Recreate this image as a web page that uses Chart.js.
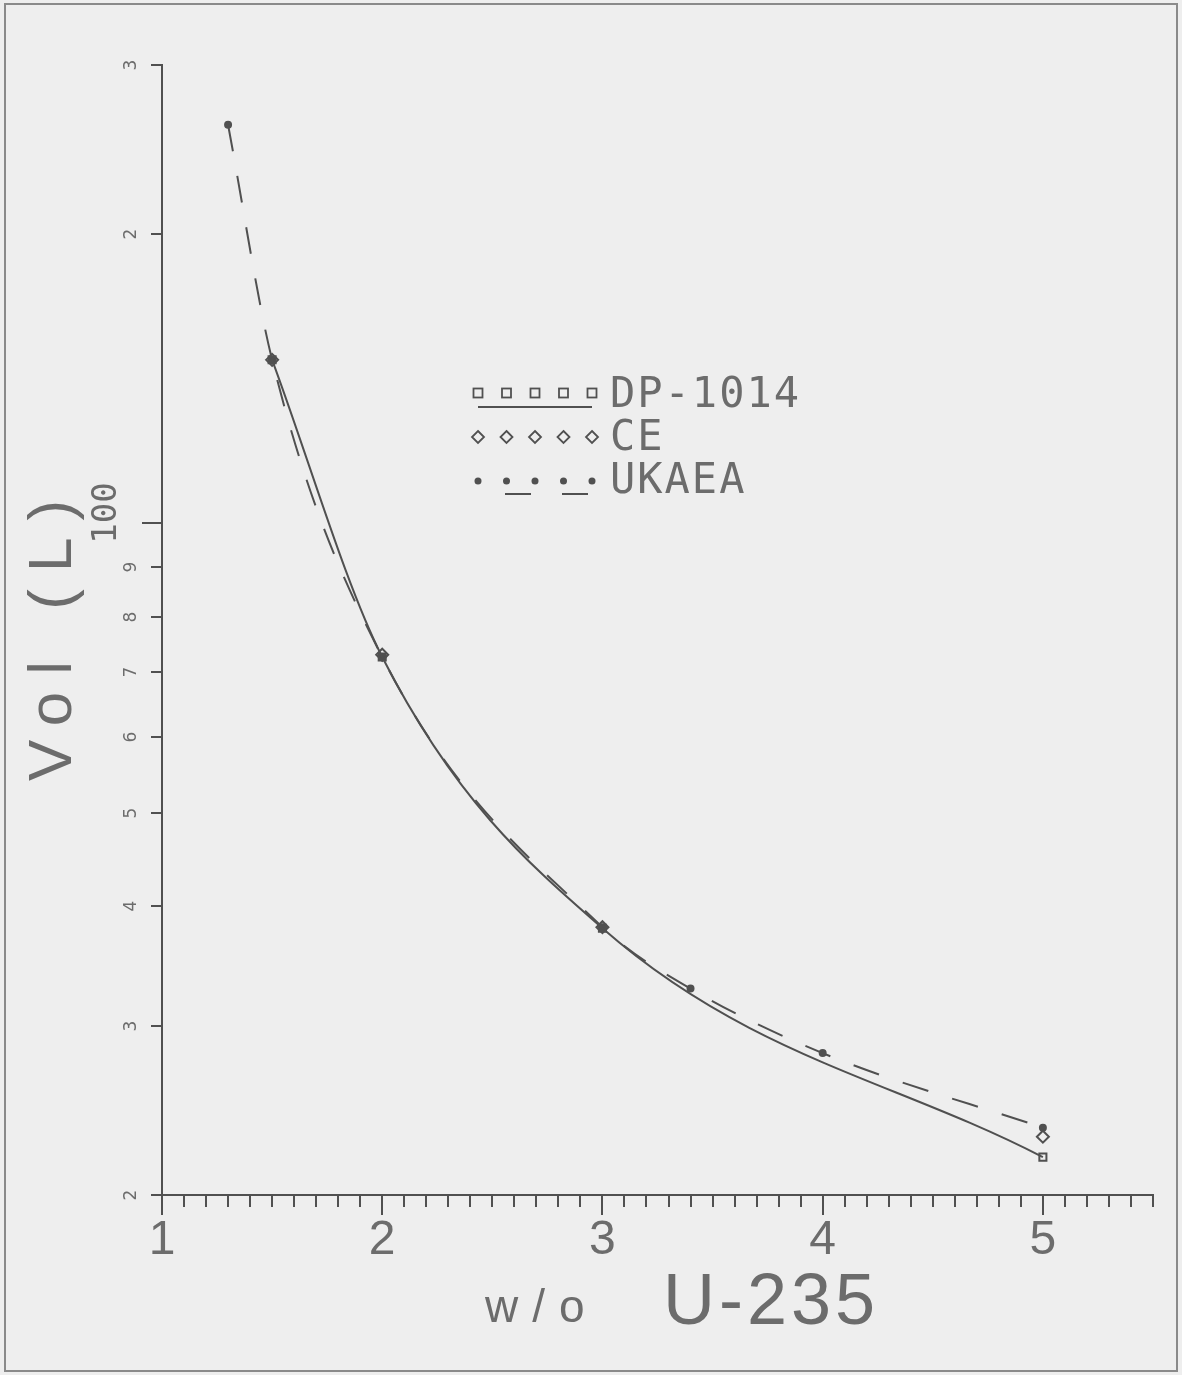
<!DOCTYPE html>
<html>
<head>
<meta charset="utf-8">
<script src="https://cdn.jsdelivr.net/npm/chart.js@4/dist/chart.umd.min.js"></script>
<style>
  html, body { margin: 0; padding: 0; background: #eeeeee; }
  #wrap { width: 1182px; height: 1375px; position: relative; }
</style>
</head>
<body>
<div id="wrap"><canvas id="chart" width="1182" height="1375"></canvas></div>
<script>
// ── Data ─────────────────────────────────────
const dpX = [1.5, 2, 3, 5];
const dpY = [148, 72.6, 37.9, 21.9];

const ceX = [1.5, 2, 3, 5];
const ceY = [148, 73, 38, 23.0];

const ukX = [1.3, 1.5, 2, 3, 3.4, 4, 5];
const ukY = [260, 148, 72.6, 38, 32.8, 28.1, 23.5];

const yTicks = [20, 30, 40, 50, 60, 70, 80, 90, 100, 200, 300];
const yTickLabels = ['2', '3', '4', '5', '6', '7', '8', '9', '100', '2', '3'];
const xTicks = [1, 2, 3, 4, 5];

const INK = '#505050';
const TXT = '#6c6c6c';

const pts = (xs, ys) => xs.map((x, i) => ({ x, y: ys[i] }));

// ── Decorations: frame, ticks, labels, titles, legend ──
const decor = {
  id: 'decor',
  beforeDraw(chart) {
    const c = chart.ctx;
    c.save();
    c.fillStyle = '#eeeeee';
    c.fillRect(0, 0, chart.width, chart.height);
    c.strokeStyle = '#8a8a8a';
    c.lineWidth = 2;
    c.strokeRect(5, 4, chart.width - 10, chart.height - 8);
    c.restore();
  },
  afterDraw(chart) {
    const c = chart.ctx;
    const xs = chart.scales.x, ys = chart.scales.y;
    const area = chart.chartArea;
    c.save();
    c.strokeStyle = INK;
    c.lineWidth = 2;

    // x ticks (minor every 0.1, major at integers)
    for (let i = 10; i <= 55; i++) {
      const v = i / 10;
      const px = Math.round(xs.getPixelForValue(v));
      const len = i % 10 === 0 ? 20 : 12;
      c.beginPath();
      c.moveTo(px, area.bottom);
      c.lineTo(px, area.bottom + len);
      c.stroke();
    }
    c.fillStyle = TXT;
    c.font = '48px "Liberation Sans", sans-serif';
    c.textAlign = 'center';
    c.textBaseline = 'middle';
    xTicks.forEach(v => c.fillText(String(v), xs.getPixelForValue(v), area.bottom + 46));

    // y ticks + rotated labels
    yTicks.forEach((v, i) => {
      const py = Math.round(ys.getPixelForValue(v));
      const big = yTickLabels[i] === '100';
      c.beginPath();
      c.moveTo(area.left, py);
      c.lineTo(area.left - (big ? 20 : 11), py);
      c.stroke();
      c.save();
      if (big) {
        c.font = '34px "DejaVu Sans Mono", monospace';
        c.translate(107, py - 10);
      } else {
        c.font = '17px "DejaVu Sans", sans-serif';
        c.translate(area.left - 30, py);
      }
      c.rotate(-Math.PI / 2);
      c.fillText(yTickLabels[i], 0, 0);
      c.restore();
    });

    // y title
    c.save();
    c.translate(54, 632);
    c.rotate(-Math.PI / 2);
    c.font = '62px "Liberation Sans", sans-serif';
    c.letterSpacing = '17px';
    c.fillText('Vol (L)', 0, 0);
    c.restore();

    // x title
    c.textAlign = 'left';
    c.textBaseline = 'alphabetic';
    c.font = '46px "Liberation Sans", sans-serif';
    c.letterSpacing = '14px';
    c.fillText('w/o', 485, 1322);
    c.font = '72px "Liberation Sans", sans-serif';
    c.letterSpacing = '4px';
    c.fillText('U-235', 663, 1324);
    c.letterSpacing = '0px';

    // legend
    const lx = 478, step = 28.5;
    const rows = [393, 437, 481];
    c.lineWidth = 1.8;
    for (let k = 0; k < 5; k++) {
      const px = lx + k * step;
      c.strokeRect(px - 4.5, rows[0] - 4.5, 9, 9);
      c.beginPath();
      c.moveTo(px, rows[1] - 6); c.lineTo(px + 6, rows[1]);
      c.lineTo(px, rows[1] + 6); c.lineTo(px - 6, rows[1]);
      c.closePath(); c.stroke();
      c.beginPath();
      c.arc(px, rows[2], 3.5, 0, Math.PI * 2);
      c.fillStyle = INK; c.fill();
    }
    c.lineWidth = 2;
    c.beginPath(); c.moveTo(lx, 407); c.lineTo(lx + 4 * step, 407); c.stroke();
    c.beginPath(); c.moveTo(lx + 27, 494); c.lineTo(lx + 53, 494); c.stroke();
    c.beginPath(); c.moveTo(lx + 84, 494); c.lineTo(lx + 110, 494); c.stroke();

    c.fillStyle = TXT;
    c.textBaseline = 'middle';
    c.font = '42px "DejaVu Sans Mono", monospace';
    c.letterSpacing = '2px';
    c.fillText('DP-1014', 610, 396);
    c.fillText('CE', 610, 439);
    c.fillText('UKAEA', 610, 482);
    c.restore();
  }
};

// ── Chart ─────────────────────────────────────
new Chart(document.getElementById('chart'), {
  type: 'line',
  data: {
    datasets: [
      {
        label: 'DP-1014',
        data: pts(dpX, dpY),
        borderColor: INK,
        borderWidth: 2,
        pointStyle: 'rect',
        pointRadius: 5,
        pointBorderColor: INK,
        pointBackgroundColor: 'rgba(0,0,0,0)',
        pointBorderWidth: 2,
        cubicInterpolationMode: 'monotone',
      },
      {
        label: 'CE',
        data: pts(ceX, ceY),
        showLine: false,
        pointStyle: 'rectRot',
        pointRadius: 6,
        pointBorderColor: INK,
        pointBackgroundColor: 'rgba(0,0,0,0)',
        pointBorderWidth: 2,
      },
      {
        label: 'UKAEA',
        data: pts(ukX, ukY),
        borderColor: INK,
        borderWidth: 2,
        borderDash: [27, 25],
        pointStyle: 'circle',
        pointRadius: 3,
        pointBorderColor: INK,
        pointBackgroundColor: INK,
        cubicInterpolationMode: 'monotone',
      },
    ],
  },
  options: {
    responsive: false,
    animation: false,
    layout: { padding: { left: 154, right: 29, top: 65, bottom: 172 } },
    plugins: { legend: { display: false }, tooltip: { enabled: false } },
    scales: {
      x: {
        type: 'linear', min: 1, max: 5.5,
        grid: { display: false },
        ticks: { display: false },
        border: { display: true, color: INK, width: 2 },
      },
      y: {
        type: 'logarithmic', min: 20, max: 300,
        grid: { display: false },
        ticks: { display: false },
        border: { display: true, color: INK, width: 2 },
      },
    },
  },
  plugins: [decor],
});
</script>
</body>
</html>
